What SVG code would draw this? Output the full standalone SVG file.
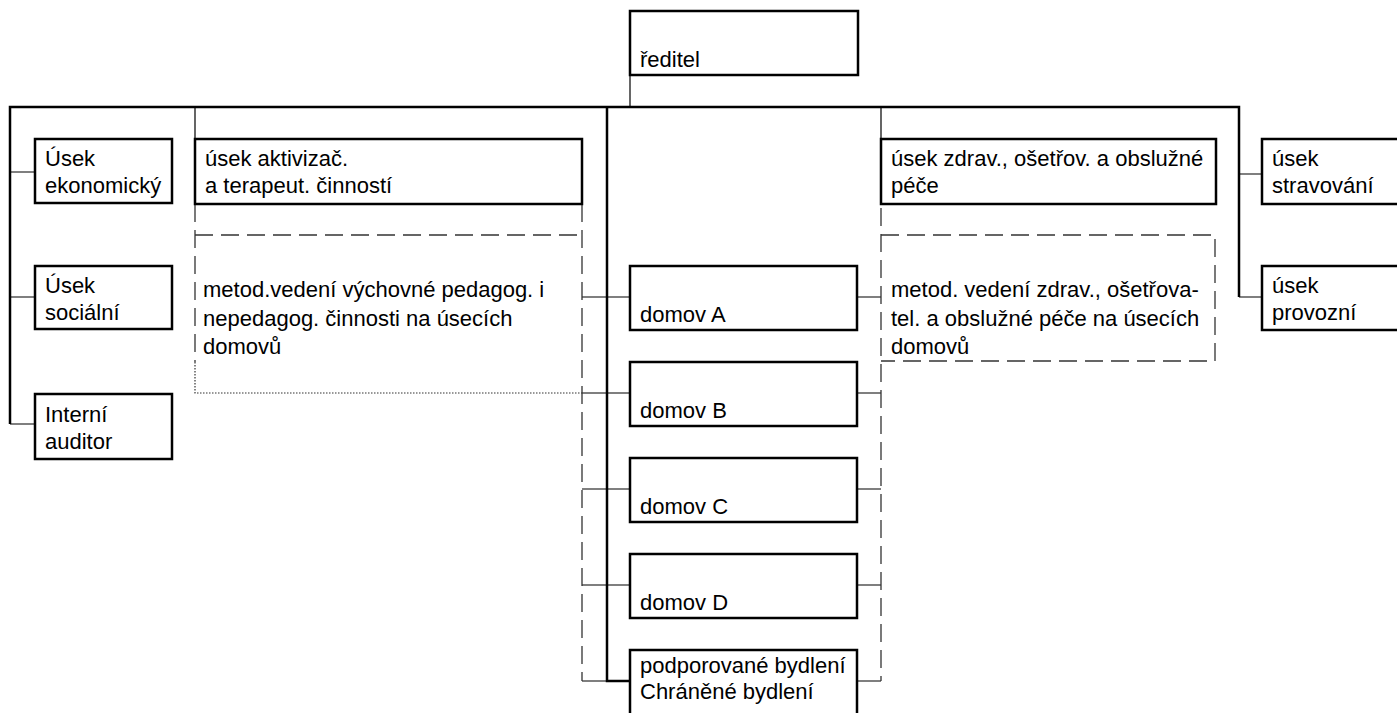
<svg xmlns="http://www.w3.org/2000/svg" width="1397" height="713" viewBox="0 0 1397 713">
<style>
.box{fill:#fff;stroke:#000;stroke-width:2.5}
.t{font-family:"Liberation Sans",Arial,sans-serif;font-size:22px;fill:#000}
.thick{fill:none;stroke:#000;stroke-width:2.5}
.thin{fill:none;stroke:#000;stroke-width:1.2}
.dash{fill:none;stroke:#333;stroke-width:1.3;stroke-dasharray:18 8}
.dot{fill:none;stroke:#333;stroke-width:1.2;stroke-dasharray:1.5 1.5}
</style>
<rect width="1397" height="713" fill="#fff"/>
<g id="connectors">
<path class="thin" d="M630 75V107"/>
<path class="thick" d="M10 424V107H1239V297"/>
<path class="thin" d="M10 172H35M10 297H35M10 424H35"/>
<path class="thin" d="M195 107V139M881 107V140"/>
<path class="thick" d="M607 107V681H630"/>
<path class="thin" d="M582 297H630M582 393H630M582 489H630M582 585H630M582 681H607"/>
<path class="thin" d="M857 297H881M857 393H881M857 489H881M857 585H881M857 681H881"/>
<path class="thin" d="M1239 174H1262M1239 297H1262"/>
<path class="dash" d="M195 204V362M195 235H582M582 204V681"/>
<path class="dot" d="M195 362V393H582"/>
<path class="dash" d="M881 208V681M881 235H1215V361H881"/>
</g>
<g id="reditel"><rect class="box" x="630" y="11" width="228" height="64"/><text class="t" x="640" y="67">ředitel</text></g>
<g id="usek-ekonomicky"><rect class="box" x="35" y="139" width="137" height="64"/><text class="t" x="45" y="166">Úsek</text><text class="t" x="45" y="193">ekonomický</text></g>
<g id="usek-socialni"><rect class="box" x="35" y="266" width="137" height="63"/><text class="t" x="45" y="293">Úsek</text><text class="t" x="45" y="320">sociální</text></g>
<g id="interni-auditor"><rect class="box" x="35" y="394" width="137" height="65"/><text class="t" x="45" y="422">Interní</text><text class="t" x="45" y="449">auditor</text></g>
<g id="usek-aktivizac"><rect class="box" x="195" y="139" width="387" height="65"/><text class="t" x="205" y="166">úsek aktivizač.</text><text class="t" x="205" y="193">a terapeut. činností</text></g>
<g id="metod-vedeni-vych"><text class="t" x="203" y="297">metod.vedení výchovné pedagog. i</text><text class="t" x="203" y="326">nepedagog. činnosti na úsecích</text><text class="t" x="203" y="354">domovů</text></g>
<g id="usek-zdrav"><rect class="box" x="881" y="139" width="335" height="65"/><text class="t" x="891" y="166">úsek zdrav., ošetřov. a obslužné</text><text class="t" x="891" y="193">péče</text></g>
<g id="metod-vedeni-zdrav"><text class="t" x="891" y="297">metod. vedení zdrav., ošetřova-</text><text class="t" x="891" y="326">tel. a obslužné péče na úsecích</text><text class="t" x="891" y="354">domovů</text></g>
<g id="usek-stravovani"><rect class="box" x="1262" y="139" width="150" height="65"/><text class="t" x="1272" y="166">úsek</text><text class="t" x="1272" y="193">stravování</text></g>
<g id="usek-provozni"><rect class="box" x="1262" y="266" width="150" height="64"/><text class="t" x="1272" y="293">úsek</text><text class="t" x="1272" y="320">provozní</text></g>
<g id="domov-a"><rect class="box" x="630" y="266" width="227" height="64"/><text class="t" x="640" y="322">domov A</text></g>
<g id="domov-b"><rect class="box" x="630" y="362" width="227" height="64"/><text class="t" x="640" y="418">domov B</text></g>
<g id="domov-c"><rect class="box" x="630" y="458" width="227" height="64"/><text class="t" x="640" y="514">domov C</text></g>
<g id="domov-d"><rect class="box" x="630" y="554" width="227" height="64"/><text class="t" x="640" y="610">domov D</text></g>
<g id="bydleni"><rect class="box" x="630" y="650" width="227" height="80"/><text class="t" x="640" y="673">podporované bydlení</text><text class="t" x="640" y="699">Chráněné bydlení</text></g>
</svg>
